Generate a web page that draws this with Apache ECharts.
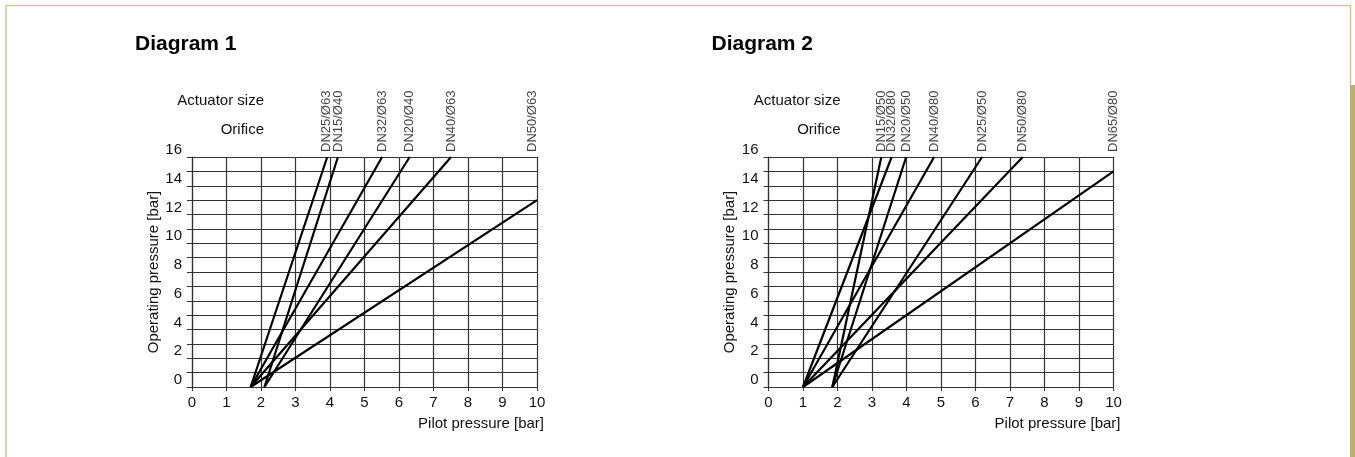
<!DOCTYPE html>
<html>
<head>
<meta charset="utf-8">
<script src="https://cdn.jsdelivr.net/npm/echarts@6/dist/echarts.min.js"></script>
<style>
html,body{margin:0;padding:0;background:#fff;}
#c{width:1355px;height:457px;}
</style>
</head>
<body>
<div id="c"></div>
<script>
// ---- data ----
const xTicks = [0,1,2,3,4,5,6,7,8,9,10];
const yTickLabels = [0,2,4,6,8,10,12,14,16];

// Diagram 1
const d1Names  = ['DN25/Ø63','DN15/Ø40','DN32/Ø63','DN20/Ø40','DN40/Ø63','DN50/Ø63'];
const d1StartX = [1.70, 2.10, 1.70, 2.10, 1.70, 1.70];
const d1EndX   = [3.92, 4.23, 5.51, 6.31, 7.51, 10];
const d1EndY   = [16, 16, 16, 16, 16, 13];
const d1LabelX = [3.91, 4.23, 5.51, 6.31, 7.51, 9.87];

// Diagram 2
const d2Names  = ['DN15/Ø50','DN32/Ø80','DN20/Ø50','DN40/Ø80','DN25/Ø50','DN50/Ø80','DN65/Ø80'];
const d2StartX = [1.85, 1.00, 1.85, 1.00, 1.85, 1.00, 1.00];
const d2EndX   = [3.27, 3.57, 3.99, 4.80, 6.19, 7.37, 10];
const d2EndY   = [16, 16, 16, 16, 16, 16, 15];
const d2LabelX = [3.27, 3.57, 3.99, 4.80, 6.19, 7.37, 10];

// ---- chart ----
const FONT = '"Liberation Sans", Arial, Helvetica, sans-serif';
const GRID_C = '#333';
const chart = echarts.init(document.getElementById('c'), null, {renderer:'canvas'});

function xAxisCfg(gi){
  return {
    gridIndex: gi, type:'value', min:0, max:10, interval:1,
    axisLine:{show:true, lineStyle:{color:GRID_C, width:1.2}},
    axisTick:{show:true, length:4, lineStyle:{color:GRID_C}},
    splitLine:{show:true, lineStyle:{color:GRID_C, width:1.2}},
    axisLabel:{fontFamily:FONT, fontSize:15, color:'#111', margin:8,
      formatter: v => xTicks.indexOf(v) >= 0 ? String(v) : ''},
    name:'Pilot pressure [bar]', nameLocation:'end', nameGap:7,
    nameTextStyle:{fontFamily:FONT, fontSize:15, color:'#111', align:'right', verticalAlign:'top', padding:[29,0,0,0]}
  };
}
function yAxisCfg(gi){
  return {
    gridIndex: gi, type:'value', min:0, max:16, interval:1,
    axisLine:{show:true, lineStyle:{color:GRID_C, width:1.2}},
    axisTick:{show:true, length:5, lineStyle:{color:GRID_C}},
    splitLine:{show:true, lineStyle:{color:GRID_C, width:1.2}},
    axisLabel:{fontFamily:FONT, fontSize:15, color:'#111', margin:10, verticalAlign:'bottom', lineHeight:14,
      formatter: v => yTickLabels.indexOf(v) >= 0 ? String(v) : ''},
    name:'Operating pressure [bar]', nameLocation:'middle', nameGap:31,
    nameTextStyle:{fontFamily:FONT, fontSize:15, color:'#111'}
  };
}

function lineSeries(gi, names, sx, ex, ey){
  return names.map((n,i)=>({
    type:'line', name:n, xAxisIndex:gi, yAxisIndex:gi,
    data:[[sx[i],0],[ex[i],ey[i]]],
    symbol:'none', lineStyle:{color:'#000', width:2.2}, silent:true, z:5
  }));
}
function labelSeries(gi, names, lx){
  return {
    type:'scatter', xAxisIndex:gi, yAxisIndex:gi, symbolSize:0, silent:true,
    data: names.map((n,i)=>({value:[lx[i],16], name:n})),
    label:{show:true, position:'top', distance:5, rotate:90, align:'left', verticalAlign:'middle',
      formatter: p => p.name, fontFamily:FONT, fontSize:13, color:'#111'}
  };
}

const gridTop = 157, gridH = 230, gridW = 345;
const g1Left = 192, g2Left = 768.5;

function texts(offX, title){
  return [
    {type:'text', left: offX + 135, top: 34, style:{text:title, font:'bold 21px '+FONT, fill:'#000'}},
    {type:'text', right: 1355 - (offX + 264), top: 93, style:{text:'Actuator size', font:'15px '+FONT, fill:'#111'}},
    {type:'text', right: 1355 - (offX + 264), top: 122, style:{text:'Orifice', font:'15px '+FONT, fill:'#111'}}
  ];
}

const frame = [
  {type:'line', shape:{x1:6, y1:5.5, x2:1350.5, y2:5.5}, style:{stroke:'#cfc58c', lineWidth:1.5}, z:10},
  {type:'line', shape:{x1:6, y1:5.5, x2:6, y2:457}, style:{stroke:'#cfc58c', lineWidth:1.5}, z:10},
  {type:'line', shape:{x1:1350.5, y1:5.5, x2:1350.5, y2:86}, style:{stroke:'#cfc58c', lineWidth:1.5}, z:10},
  {type:'rect', shape:{x:1350, y:85, width:5, height:372}, style:{fill:'#bcb067'}, z:10}
];

chart.setOption({
  animation:false,
  backgroundColor:'#fff',
  grid:[
    {left:g1Left, top:gridTop, width:gridW, height:gridH},
    {left:g2Left, top:gridTop, width:gridW, height:gridH}
  ],
  xAxis:[xAxisCfg(0), xAxisCfg(1)],
  yAxis:[yAxisCfg(0), yAxisCfg(1)],
  series:[].concat(
    lineSeries(0, d1Names, d1StartX, d1EndX, d1EndY),
    [labelSeries(0, d1Names, d1LabelX)],
    lineSeries(1, d2Names, d2StartX, d2EndX, d2EndY),
    [labelSeries(1, d2Names, d2LabelX)]
  ),
  graphic: frame.concat(texts(0,'Diagram 1'), texts(576.5,'Diagram 2'))
});
</script>
</body>
</html>
